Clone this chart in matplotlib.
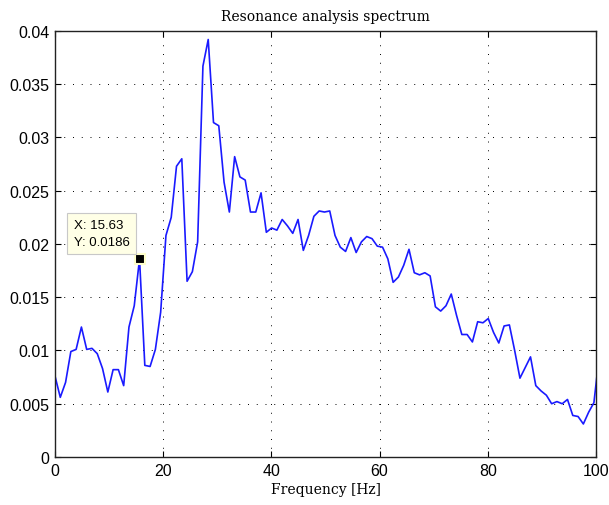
import numpy as np
import matplotlib
matplotlib.use("Agg")
import matplotlib.pyplot as plt

# spectrum bins: fs = 1000 Hz, N = 1024 -> df = 0.9766 Hz
bin_index = np.arange(104)
df = 1000.0 / 1024.0
amplitude = [
    0.0076, 0.0056, 0.0070, 0.0099, 0.0101, 0.0122, 0.0101, 0.0102, 0.0097, 0.0083,
    0.0061, 0.0082, 0.0082, 0.0067, 0.0122, 0.0142, 0.0186, 0.0086, 0.0085, 0.0101,
    0.0136, 0.0208, 0.0225, 0.0273, 0.0280, 0.0165, 0.0174, 0.0202, 0.0367, 0.0392,
    0.0314, 0.0311, 0.0258, 0.0230, 0.0282, 0.0263, 0.0260, 0.0230, 0.0230, 0.0248,
    0.0211, 0.0215, 0.0213, 0.0223, 0.0217, 0.0210, 0.0223, 0.0194, 0.0208, 0.0226,
    0.0231, 0.0230, 0.0231, 0.0208, 0.0197, 0.0193, 0.0206, 0.0192, 0.0202, 0.0207,
    0.0205, 0.0198, 0.0197, 0.0186, 0.0164, 0.0169, 0.0180, 0.0195, 0.0173, 0.0171,
    0.0173, 0.0170, 0.0141, 0.0137, 0.0142, 0.0153, 0.0133, 0.0115, 0.0115, 0.0108,
    0.0127, 0.0126, 0.0130, 0.0117, 0.0107, 0.0123, 0.0124, 0.0100, 0.0074, 0.0084,
    0.0094, 0.0067, 0.0062, 0.0058, 0.0050, 0.0052, 0.0050, 0.0054, 0.0039, 0.0038,
    0.0031, 0.0042, 0.0051, 0.0095,
]
freq = bin_index * df

tip_index = 16
tip_text = "X: 15.63\nY: 0.0186"
x_ticks = [0, 20, 40, 60, 80, 100]
y_ticks = [0, 0.005, 0.01, 0.015, 0.02, 0.025, 0.03, 0.035, 0.04]
y_ticklabels = ["0", "0.005", "0.01", "0.015", "0.02", "0.025", "0.03", "0.035", "0.04"]

fig = plt.figure(figsize=(6.09, 5.06), dpi=100)
ax = fig.add_axes([0.0903, 0.0949, 0.8884, 0.8419])

ax.plot(freq, amplitude, color="#1a1aff", linewidth=1.2)

ax.set_xlim(0, 100)
ax.set_ylim(0, 0.04)
ax.set_xticks(x_ticks)
ax.set_yticks(y_ticks)
ax.set_yticklabels(y_ticklabels)
ax.tick_params(direction="in", top=True, right=True, length=4, width=0.8,
               labelsize=11.5, pad=4)
for lab in ax.get_xticklabels() + ax.get_yticklabels():
    lab.set_fontfamily("Liberation Sans")
for sp in ax.spines.values():
    sp.set_linewidth(1.0)
    sp.set_color("#222222")

ax.grid(True, color="black", linestyle=(0, (1, 8)), linewidth=0.7)

ax.set_title("Resonance analysis spectrum", fontname="DejaVu Serif", fontsize=10, pad=8)
ax.set_xlabel("Frequency [Hz]", fontname="DejaVu Serif", fontsize=10, labelpad=3)

# data tip
tx, ty = freq[tip_index], amplitude[tip_index]
ax.plot([tx], [ty], marker="s", markersize=7, color="black",
        markeredgecolor="#ffffcc", markeredgewidth=1.5, zorder=5)
ax.annotate(tip_text, xy=(tx, ty), xytext=(-66, 11),
            textcoords="offset pixels", ha="left", va="bottom",
            fontsize=9.5, fontfamily="Liberation Sans", linespacing=1.5,
            bbox=dict(boxstyle="square,pad=0.5", facecolor="#ffffe6",
                      edgecolor="#c8c8c8", linewidth=0.8), zorder=6)

fig.savefig("out.png", dpi=100)
